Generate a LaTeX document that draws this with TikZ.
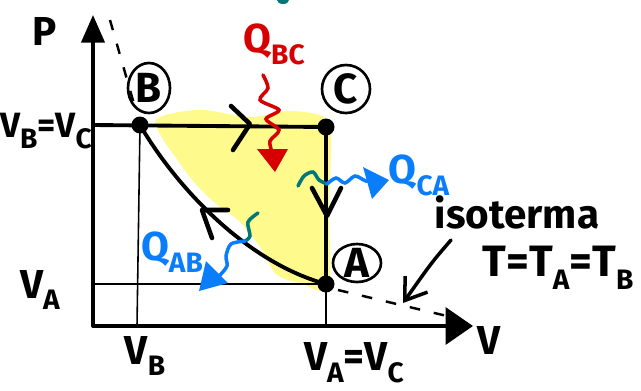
\documentclass[tikz,border=0pt]{standalone}
\usepackage{fontspec}
\setmainfont{Fira Sans}
\usetikzlibrary{arrows.meta,shapes.geometric,calc}
\newcommand{\lowsub}[1]{\raisebox{-0.55ex}{\fontsize{16}{17}\selectfont #1}}
\definecolor{hiyellow}{RGB}{255,250,140}
\definecolor{qred}{RGB}{215,0,0}
\definecolor{qblue}{RGB}{10,125,250}
\definecolor{qteal}{RGB}{0,120,120}
\begin{document}
\begin{tikzpicture}[x=0.02cm,y=-0.02cm,
  axis/.style={line width=2.2pt,line join=round},
  cycleline/.style={line width=2.2pt,line cap=round,line join=round},
  thinline/.style={line width=0.9pt},
  chev/.style={line width=2.6pt,line cap=round,line join=round},
  dot/.style={circle,fill=black,inner sep=0pt,minimum size=0.34cm},
  statelbl/.style={inner sep=0pt,font=\fontsize{24}{26}\selectfont\bfseries},
  ring/.style={line width=1.5pt},
  lbl/.style={font=\fontsize{23}{25}\selectfont\bfseries,inner sep=0pt},
  qwave/.style={line width=2pt,line cap=round},
  dashline/.style={line width=1.4pt,dash pattern=on 6pt off 8pt}]
\useasboundingbox (0,0) rectangle (641,390);
% highlighted area
\fill[hiyellow] plot[smooth cycle,tension=0.6] coordinates {
 (158,118) (200,110) (250,117) (290,111) (326,118) (331,140)
 (329,210) (328,286) (300,283) (276,274) (262,250) (240,222)
 (215,203) (194,182) (176,158) (160,134)};
% points
\coordinate (O) at (93,326);
\coordinate (Ptop) at (93,15);
\coordinate (Vend) at (473,326);
\node[dot] (B) at (140,125) {};
\node[dot] (C) at (326,127) {};
\node[dot] (A) at (326,284) {};
\coordinate (Bbot) at (137,326);
\coordinate (Aleft) at (93,284);
\coordinate (Cleft) at (93,125);
\coordinate (Cbot) at (326,326);
% axes
\draw[axis,{Triangle[length=0.55cm,width=0.46cm]}-{Triangle[length=0.55cm,width=0.74cm]}] (Ptop) -- (O) -- (Vend);
% thin guide lines
\draw[thinline] (B.center) -- (Bbot);
\draw[thinline] (Aleft) -- (A.center);
\draw[thinline] (A.center) -- (Cbot);
% cycle
\draw[cycleline] (Cleft) -- (C.center);
\draw[cycleline] (C.center) -- (A.center);
\draw[cycleline] (B.center) .. controls (175,185) and (245,262) .. (A.center);
% isotherm dashed extensions
\coordinate (dtop) at (110,20);
\coordinate (dend) at (447,316);
\draw[dashline] (dtop) -- ($(B)!0.15!(dtop)$);
\draw[dashline] ($(A)+(12,6)$) -- (dend);
% direction chevrons
\draw[chev] (231,106) -- (250,124) -- (233,150);
\draw[chev] (312,188) -- (327,216) -- (341,188);
\draw[chev] (212,238) -- (202,210) -- (228,210);
% state labels
\node[statelbl] (Bl) at (149,88) {B};
\node[statelbl] (Cl) at (346,89) {C};
\node[statelbl] (Al) at (357,263) {A};
\draw[ring] (Bl.center) ellipse (21 and 25);
\draw[ring] (Cl.center) ellipse (24 and 24);
\draw[ring] (Al.center) ellipse (24 and 19);
% axis labels
\node[lbl] (Pl) at (45,31) {P};
\node[lbl] (Vl) at (489,340) {V};
\node[lbl,font=\fontsize{20}{22}\selectfont\bfseries] (VBVC) at (46,131) {V\lowsub{B}=V\lowsub{C}};
\node[lbl] (VAl) at (40,290) {V\lowsub{A}};
\node[lbl] (VBl) at (145,356) {V\lowsub{B}};
\node[lbl] (VAVC) at (354,363) {V\lowsub{A}=V\lowsub{C}};
% heat Q_BC
\node[lbl,text=qred] (QBC) at (274,44) {Q\lowsub{BC}};
\draw[qwave,qred] plot[smooth] coordinates {(263,75) (268,88) (260,100) (279,110) (266,119) (279,130) (270,141) (272,152)};
\fill[qred] (257,149) -- (288,149) -- (275,172) -- cycle;
% heat Q_CA
\node[lbl,text=qblue] (QCA) at (419,175) {Q\lowsub{CA}};
\draw[qwave,qteal] plot[smooth] coordinates {(298,186) (304,176) (313,172) (319,180) (327,184)};
\draw[qwave,qblue] plot[smooth] coordinates {(327,184) (336,178) (345,183) (355,176) (366,181) (374,180)};
\fill[qblue] (363,167) -- (389,180) -- (372,199) -- cycle;
% heat Q_AB
\node[lbl,text=qblue] (QAB) at (172,252) {Q\lowsub{AB}};
\draw[qwave,qteal] plot[smooth] coordinates {(258,213) (248,222) (250,236) (245,241)};
\draw[qwave,qblue] plot[smooth] coordinates {(245,241) (231,244) (226,256) (227,266) (219,276) (211,281)};
\fill[qblue] (206,261) -- (228,283) -- (199,291) -- cycle;
% isotherm note
\node[lbl] (iso) at (517,212) {isoterma};
\node[lbl,font=\fontsize{25}{27}\selectfont\bfseries] (TT) at (558,268) {T=T\lowsub{A}=T\lowsub{B}};
\coordinate (isotip) at (403,303);
\draw[line width=2pt,line cap=round,-{Straight Barb[length=0.4cm,width=0.55cm]}] (451,240) .. controls (432,262) .. (isotip);
% stray mark at top
\fill[qteal] (283,0) ellipse (6 and 4);
\end{tikzpicture}
\end{document}
